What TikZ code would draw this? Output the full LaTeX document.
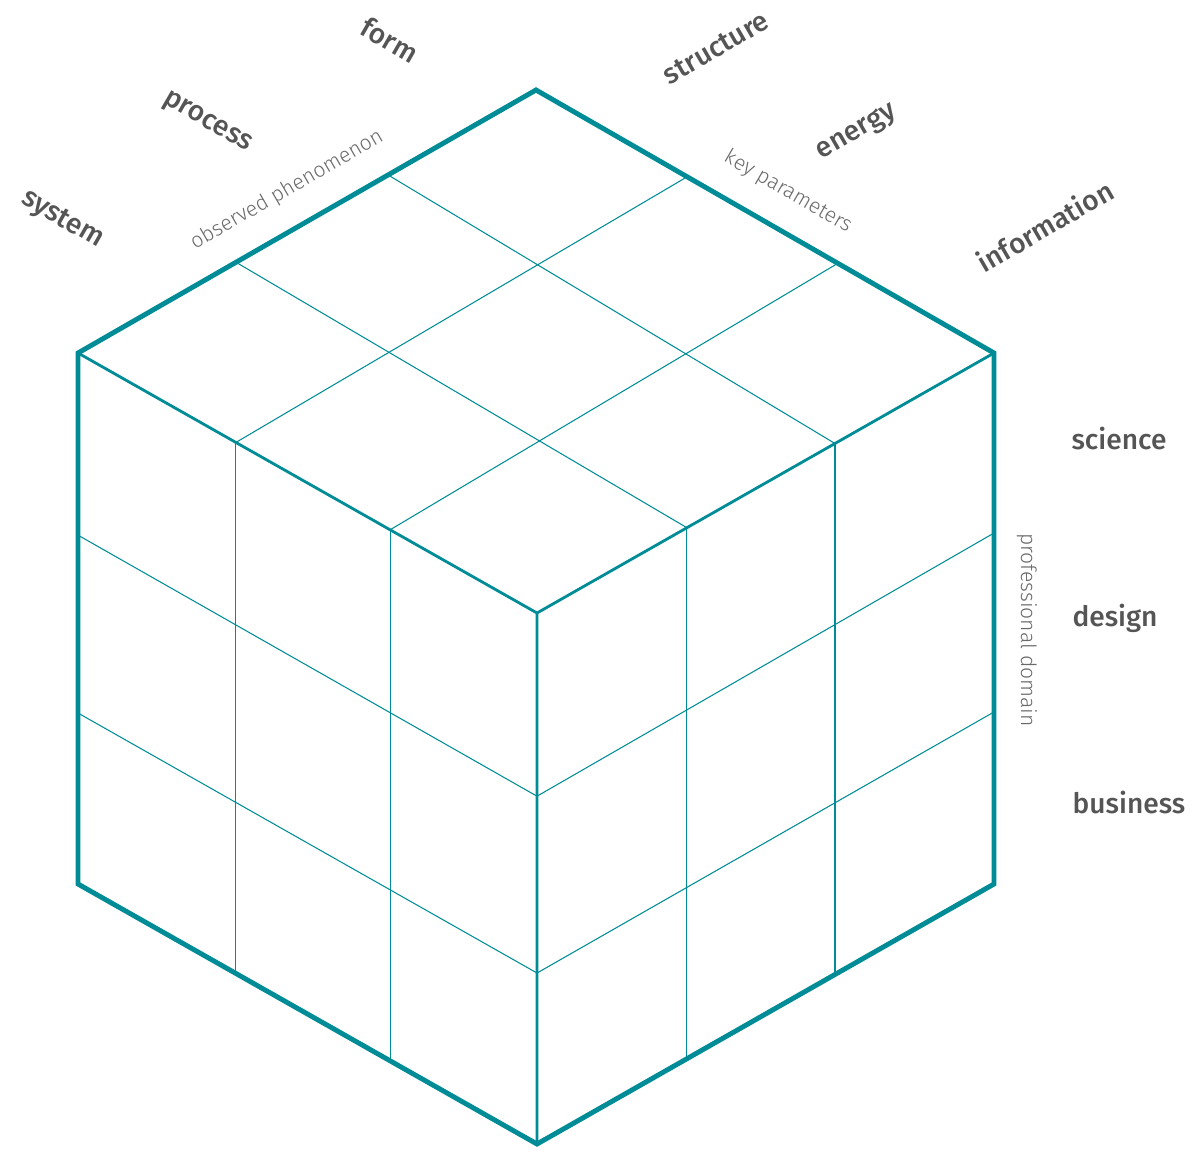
\documentclass[tikz,border=0pt]{standalone}
\usepackage{fontspec}
\setmainfont{Fira Sans}
\newfontfamily\labfont{Fira Sans Medium}
\newfontfamily\subfont{Fira Sans Light}
\usepackage{tikz}
\usetikzlibrary{calc}
\definecolor{cubeT}{RGB}{0,140,150}
\definecolor{labG}{RGB}{85,85,85}
\definecolor{subG}{RGB}{105,105,105}

\begin{document}
\begin{tikzpicture}[x=0.02cm, y=-0.02cm,
  edge/.style={draw=cubeT, line width=2.8pt, line join=miter},
  mid/.style={draw=cubeT, line width=1.6pt},
  grid/.style={draw=cubeT, line width=0.6pt},
  lab/.style={text=labG, font=\fontsize{16}{19}\selectfont\labfont, inner sep=0pt},
  sub/.style={text=subG, font=\fontsize{12}{14}\selectfont\subfont, inner sep=0pt}]
  \useasboundingbox (0,0) rectangle (1192,1149);
  % cube corners
  \coordinate (T)  at (536,90);
  \coordinate (L)  at (78,353);
  \coordinate (R)  at (994,353);
  \coordinate (C)  at (537,613);
  \coordinate (LB) at (78,884);
  \coordinate (RB) at (994,884);
  \coordinate (B)  at (537,1144);
  % top face grid
  \foreach \a/\b in {0.323/0.348, 0.655/0.672}
    \draw[grid] ($(T)!\a!(L)$) -- ($(R)!\b!(C)$);
  \foreach \a/\b in {0.33/0.344, 0.659/0.68}
    \draw[grid] ($(T)!\a!(R)$) -- ($(L)!\b!(C)$);
  % left face grid
  \foreach \a in {0.344, 0.68}
    \draw[grid] ($(L)!\a!(C)$) -- ($(LB)!\a!(B)$);
  \foreach \a/\b in {0.343/0.345, 0.678/0.678}
    \draw[grid] ($(L)!\a!(LB)$) -- ($(C)!\b!(B)$);
  % right face grid
  \foreach \a in {0.328, 0.652}
    \draw[grid] ($(C)!\a!(R)$) -- ($(B)!\a!(RB)$);
  \foreach \a/\b in {0.345/0.339, 0.678/0.676}
    \draw[grid] ($(C)!\a!(B)$) -- ($(R)!\b!(RB)$);
  \draw[mid] (L) -- (C) -- (R) (C) -- (B);
  \draw[edge] (T) -- (R) -- (RB) -- (B) -- (LB) -- (L) -- cycle;
  % left axis
  \node[lab, rotate=-30] (sys)  at (62,220)  {system};
  \node[lab, rotate=-30] (proc) at (207,123) {process};
  \node[lab, rotate=-30] (form) at (390,40)  {form};
  \node[sub, rotate=30]  (obs)  at (287,190) {observed phenomenon};
  % right axis
  \node[lab, rotate=30]  (str)  at (716,48)  {structure};
  \node[lab, rotate=30]  (ene)  at (857,133) {energy};
  \node[lab, rotate=30]  (inf)  at (1045,226) {information};
  \node[sub, rotate=-30] (key)  at (788,192) {key parameters};
  % vertical axis
  \node[lab] (sci) at (1119,439) {science};
  \node[lab] (des) at (1115,618) {design};
  \node[lab] (bus) at (1129,802) {business};
  \node[sub, rotate=-90] (pro) at (1027,630) {professional domain};
\end{tikzpicture}
\end{document}
